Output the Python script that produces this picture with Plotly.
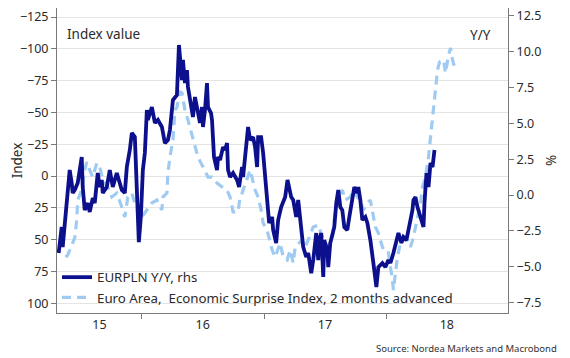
import plotly.graph_objects as go

# EURPLN Y/Y (rhs, %)
eurpln_dates = [
    "2015-04-27","2015-04-30","2015-05-06","2015-05-09","2015-05-15","2015-05-21","2015-05-24","2015-05-30",
    "2015-06-05","2015-06-08","2015-06-14","2015-06-23","2015-07-05","2015-07-08","2015-07-14","2015-07-23",
    "2015-07-29","2015-08-07","2015-08-13","2015-08-22","2015-08-28","2015-09-03","2015-09-06","2015-09-18",
    "2015-09-27","2015-10-06","2015-10-18","2015-10-27","2015-11-02","2015-11-11","2015-11-17","2015-11-26",
    "2015-12-02","2015-12-11","2015-12-17","2015-12-23","2015-12-29","2016-01-04","2016-01-10","2016-01-16",
    "2016-01-19","2016-01-31","2016-02-09","2016-02-18","2016-03-01","2016-03-10","2016-03-19","2016-03-25",
    "2016-04-03","2016-04-15","2016-04-18","2016-04-21","2016-04-30","2016-05-03","2016-05-09","2016-05-15",
    "2016-05-18","2016-05-24","2016-06-02","2016-06-08","2016-06-14","2016-06-23","2016-06-29","2016-07-02",
    "2016-07-08","2016-07-14","2016-07-17","2016-07-26","2016-07-29","2016-08-04","2016-08-13","2016-08-16",
    "2016-08-22","2016-08-31","2016-09-06","2016-09-12","2016-09-15","2016-09-21","2016-09-30","2016-10-12",
    "2016-10-18","2016-10-27","2016-10-30","2016-11-05","2016-11-14","2016-11-20","2016-11-29","2016-12-05",
    "2016-12-11","2016-12-14","2016-12-23","2016-12-29","2017-01-04","2017-01-10","2017-01-16","2017-01-25",
    "2017-01-28","2017-02-06","2017-02-12","2017-02-21","2017-02-27","2017-03-05","2017-03-12","2017-03-17",
    "2017-03-23","2017-03-29","2017-04-07","2017-04-13","2017-04-19","2017-04-28","2017-05-07","2017-05-13",
    "2017-05-22","2017-05-28","2017-06-06","2017-06-12","2017-06-15","2017-06-21","2017-06-27","2017-06-30",
    "2017-07-09","2017-07-12","2017-07-18","2017-07-24","2017-07-30","2017-08-05","2017-08-11","2017-08-17",
    "2017-08-23","2017-08-29","2017-09-07","2017-09-13","2017-09-22","2017-09-28","2017-10-07","2017-10-10",
    "2017-10-16","2017-10-22","2017-10-31","2017-11-06","2017-11-15","2017-11-21","2017-11-24","2017-12-03",
    "2017-12-09","2017-12-21","2017-12-30","2018-01-08","2018-01-14","2018-01-23","2018-02-07","2018-02-16",
    "2018-02-22","2018-03-03","2018-03-09","2018-03-21","2018-03-24","2018-03-30","2018-04-05","2018-04-14",
    "2018-04-23","2018-04-26","2018-05-02","2018-05-08","2018-05-14","2018-05-20","2018-05-26",
]
eurpln_yy = [
    -4.04,-3.34,-2.23,-3.62,-1.95,-0.56,-0.14,1.74,
    0.84,0.14,0.35,0.84,2.65,0.56,-1.05,-0.56,
    -1.18,-0.21,-0.56,1.53,0.56,1.05,0.14,0.56,
    1.74,0.56,1.53,0.84,0.35,0.14,1.95,3.14,
    4.32,4.04,1.05,-3.28,-1.53,1.74,2.93,5.92,
    5.23,6.13,5.02,5.23,4.74,3.62,3.83,4.53,
    6.62,6.97,8.71,10.45,8.01,9.41,7.80,8.71,
    7.53,6.83,5.44,6.83,6.13,5.02,6.13,4.74,
    5.92,7.80,6.13,5.71,5.23,2.65,1.74,2.65,
    2.44,3.34,3.14,3.62,1.74,1.25,1.53,1.05,
    0.56,1.95,1.25,2.93,4.74,3.83,4.04,3.34,
    1.95,4.04,4.04,2.93,1.05,-0.35,-1.95,-1.53,
    -2.44,-3.34,-1.74,-0.84,-0.56,-0.14,1.05,0.35,
    -0.14,-0.35,-1.53,-0.35,-1.74,-3.62,-4.32,-4.04,
    -5.44,-4.53,-2.65,-4.53,-3.14,-2.65,-5.71,-3.14,
    -3.83,-5.02,-3.34,-2.65,-2.23,-0.56,0.35,-0.84,
    -1.05,-2.23,-2.44,-1.53,-0.35,0.56,0.14,0.56,
    -0.35,-1.74,-1.53,-1.95,-3.14,-4.53,-4.74,-6.41,
    -5.02,-4.74,-5.02,-4.53,-4.74,-4.04,-2.65,-3.34,
    -2.93,-3.14,-2.44,-1.05,-0.35,-0.14,-0.84,-1.53,
    -2.23,-0.56,1.53,0.56,2.23,1.95,3.14,
]

# Euro Area Economic Surprise Index, 2 months advanced (lhs, inverted)
esi_dates = [
    "2015-05-18","2015-05-24","2015-06-14","2015-06-20","2015-06-23","2015-07-05","2015-07-14","2015-07-20",
    "2015-07-29","2015-08-07","2015-08-19","2015-08-28","2015-09-06","2015-09-21","2015-10-03","2015-10-18",
    "2015-11-02","2015-11-11","2015-11-20","2015-12-02","2015-12-11","2015-12-26","2016-01-01","2016-01-16",
    "2016-01-31","2016-02-15","2016-03-01","2016-03-04","2016-03-16","2016-03-19","2016-03-25","2016-04-03",
    "2016-04-09","2016-04-15","2016-04-24","2016-04-30","2016-05-09","2016-05-18","2016-06-02","2016-06-17",
    "2016-07-02","2016-07-17","2016-07-29","2016-08-13","2016-08-28","2016-09-12","2016-09-21","2016-09-30",
    "2016-10-15","2016-10-21","2016-10-27","2016-11-11","2016-11-20","2016-12-05","2016-12-14","2016-12-23",
    "2016-12-29","2017-01-10","2017-01-19","2017-01-25","2017-02-03","2017-02-18","2017-02-27","2017-03-11",
    "2017-03-20","2017-03-29","2017-04-04","2017-04-25","2017-05-04","2017-05-13","2017-05-28","2017-06-12",
    "2017-06-24","2017-07-09","2017-07-24","2017-08-02","2017-08-11","2017-08-23","2017-09-01","2017-09-16",
    "2017-09-25","2017-10-07","2017-10-16","2017-10-25","2017-11-06","2017-11-15","2017-11-21","2017-11-30",
    "2017-12-09","2017-12-21","2017-12-30","2018-01-08","2018-01-20","2018-01-23","2018-02-04","2018-02-13",
    "2018-02-28","2018-03-15","2018-03-24","2018-04-05","2018-04-14","2018-04-20","2018-04-29","2018-05-08",
    "2018-05-14","2018-05-20","2018-05-26","2018-05-29","2018-06-04","2018-06-10","2018-06-22","2018-06-28",
    "2018-07-07","2018-07-13","2018-07-19","2018-07-25",
]
esi_index = [
    63.7,62.1,48.7,34.6,18.9,11.0,-4.7,-11.0,
    -4.7,0.8,-10.2,-7.1,3.1,8.6,16.5,13.4,
    24.4,32.2,16.5,13.4,21.2,21.2,32.2,26.7,
    21.2,18.9,26.7,16.5,13.4,-2.4,-14.9,-28.3,
    -51.9,-54.2,-66.0,-65.3,-51.9,-44.0,-28.3,-14.9,
    -7.1,0.8,0.8,5.5,8.6,11.0,16.5,28.3,
    28.3,16.5,13.4,0.8,-4.7,11.0,16.5,26.7,
    37.0,42.5,52.7,58.2,63.7,52.7,63.7,66.0,
    58.2,68.4,55.8,50.3,55.8,50.3,40.1,38.5,
    48.0,55.8,50.3,26.7,16.5,11.0,18.9,16.5,
    11.0,16.5,18.9,26.7,21.2,18.9,26.7,40.1,
    44.8,55.8,60.5,60.5,81.8,89.6,63.7,52.7,
    48.0,55.8,48.0,32.2,21.2,8.6,0.8,-14.9,
    -30.7,-44.0,-57.4,-70.0,-83.3,-89.6,-91.2,-81.0,
    -95.1,-100.6,-91.2,-85.7,
]

left_ticks = [-125, -100, -75, -50, -25, 0, 25, 50, 75, 100]
right_ticks = [12.5, 10.0, 7.5, 5.0, 2.5, 0.0, -2.5, -5.0, -7.5]
year_label_dates = ["2015-08-27", "2016-07-01", "2017-07-02", "2018-07-02"]
year_labels = ["15", "16", "17", "18"]
year_bounds = ["2016-01-01", "2017-01-01", "2018-01-01"]

NAVY = "#0d108c"
LIGHT = "#9fcbf2"
TXT = "#2a2a2a"
AX = "#7a7a7a"
FONT = "Noto Sans"

fig = go.Figure()
fig.add_trace(go.Scatter(
    x=eurpln_dates, y=eurpln_yy, yaxis="y2", mode="lines",
    name="EURPLN Y/Y, rhs", line=dict(color=NAVY, width=3.8),
))
fig.add_trace(go.Scatter(
    x=esi_dates, y=esi_index, yaxis="y", mode="lines",
    name="Euro Area,  Economic Surprise Index, 2 months advanced",
    line=dict(color=LIGHT, width=3.2, dash="9px,6px"),
))

# The page places the figure 8px in from the top-left corner; size accordingly.
fig.update_layout(
    width=562, height=350,
    margin=dict(l=49, r=62, t=0, b=45),
    paper_bgcolor="white", plot_bgcolor="white",
    font=dict(family=FONT, size=12.5, color=TXT),
    showlegend=True,
    legend=dict(
        x=0.0, y=0.0, xanchor="left", yanchor="bottom",
        bgcolor="rgba(255,255,255,0)", font=dict(size=13.3, color=TXT),
        itemwidth=30, tracegroupgap=0, traceorder="normal",
    ),
    xaxis=dict(
        type="date", range=["2015-04-22", "2019-01-01"], automargin=False,
        tickmode="array", tickvals=year_label_dates, ticktext=year_labels,
        ticks="", showgrid=False, showline=True, linecolor=AX, linewidth=1,
        zeroline=False, tickfont=dict(size=12.5, color=TXT),
        minor=dict(tickmode="array", tickvals=year_bounds, ticks="outside",
                   ticklen=5, tickcolor=AX, showgrid=False),
    ),
    yaxis=dict(
        range=[107.7, -132.1], tickmode="array", tickvals=left_ticks, automargin=False,
        showgrid=True, gridcolor="#e4e4e4", gridwidth=1,
        showline=True, linecolor=AX, linewidth=1, zeroline=False,
        ticks="outside", ticklen=5, tickcolor=AX, ticklabeloverflow="allow",
        title=dict(text="Index", font=dict(size=13.5, color=TXT), standoff=4),
        tickfont=dict(size=12.5, color=TXT),
    ),
    yaxis2=dict(
        overlaying="y", side="right", range=[-8.22, 13.03], automargin=False,
        tickmode="array", tickvals=right_ticks, tickformat=".1f",
        showgrid=False, showline=True, linecolor=AX, linewidth=1, zeroline=False,
        ticks="outside", ticklen=5, tickcolor=AX, ticklabeloverflow="allow",
        title=dict(text="%", font=dict(size=13.5, color=TXT), standoff=6),
        tickfont=dict(size=12.5, color=TXT),
    ),
    annotations=[
        dict(text="Index value", xref="paper", yref="paper", x=0.018, y=0.915,
             xanchor="left", yanchor="middle", showarrow=False,
             font=dict(size=13.5, color=TXT)),
        dict(text="Y/Y", xref="paper", yref="paper", x=0.94, y=0.911,
             xanchor="center", yanchor="middle", showarrow=False,
             font=dict(size=13.5, color=TXT)),
        dict(text="Source: Nordea Markets and Macrobond", xref="paper", yref="paper",
             x=1.113, y=-0.115, xanchor="right", yanchor="middle", showarrow=False,
             font=dict(size=9.5, color="#333333")),
    ],
)

fig.write_html("out.html")
